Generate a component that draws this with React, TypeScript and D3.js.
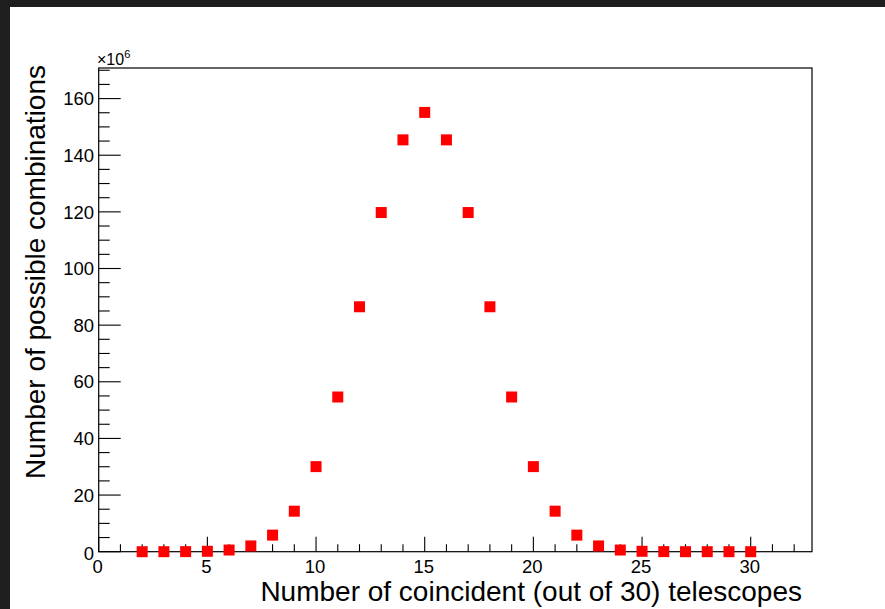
import React from "react";
import * as d3 from "d3";

// Number of coincident telescopes (out of 30)
const coincident: number[] = [
  2, 3, 4, 5, 6, 7, 8, 9, 10, 11, 12, 13, 14, 15, 16,
  17, 18, 19, 20, 21, 22, 23, 24, 25, 26, 27, 28, 29, 30,
];

// Number of possible combinations, in units of 10^6
const combinations: number[] = [
  0.000435, 0.00406, 0.027405, 0.142506, 0.593775, 2.0358, 5.852925,
  14.30715, 30.045015, 54.6273, 86.493225, 119.75985, 145.422675,
  155.11752, 145.422675, 119.75985, 86.493225, 54.6273, 30.045015,
  14.30715, 5.852925, 2.0358, 0.593775, 0.142506, 0.027405, 0.00406,
  0.000435, 0.00003, 0.000001,
];

const xMajorTicks: number[] = [0, 5, 10, 15, 20, 25, 30];
const yMajorTicks: number[] = [0, 20, 40, 60, 80, 100, 120, 140, 160];

const xTitle = "Number of coincident (out of 30) telescopes";
const yTitle = "Number of possible combinations";

const W = 885;
const H = 609;
const FONT = "'Liberation Sans', Arial, Helvetica, sans-serif";

const frame = { left: 98.7, right: 812, top: 68, bottom: 551.7 };

export default function App() {
  const x = d3.scaleLinear().domain([0, 32.82]).range([frame.left, frame.right]);
  const y = d3.scaleLinear().domain([0, 170.8]).range([frame.bottom, frame.top]);

  const xMinor = d3.range(0, 33, 1).filter((v) => v % 5 !== 0);
  const yMinor = d3.range(0, 171, 5).filter((v) => v % 20 !== 0);

  const marker = 11;

  return (
    <div style={{ position: "fixed", left: 0, top: 0, width: W, height: H }}>
      <svg width={W} height={H} style={{ display: "block" }}>
        <rect x={0} y={0} width={W} height={H} fill="#1e1e1e" />
        <rect x={10} y={7} width={W - 10} height={H - 7} fill="#ffffff" />

        {/* frame */}
        <rect
          x={frame.left}
          y={frame.top}
          width={frame.right - frame.left}
          height={frame.bottom - frame.top}
          fill="none"
          stroke="#000"
          strokeWidth={1.2}
        />

        {/* x axis ticks */}
        {xMajorTicks.map((t) => (
          <line key={"xM" + t} x1={x(t)} x2={x(t)} y1={frame.bottom} y2={frame.bottom - 15} stroke="#000" strokeWidth={1.1} />
        ))}
        {xMinor.map((t) => (
          <line key={"xm" + t} x1={x(t)} x2={x(t)} y1={frame.bottom} y2={frame.bottom - 7.5} stroke="#000" strokeWidth={1.1} />
        ))}
        {xMajorTicks.map((t) => (
          <text key={"xl" + t} x={x(t) - 1} y={573} textAnchor="middle" fontFamily={FONT} fontSize={18.5} fill="#000">
            {t}
          </text>
        ))}

        {/* y axis ticks */}
        {yMajorTicks.map((t) => (
          <line key={"yM" + t} x1={frame.left} x2={frame.left + 22} y1={y(t)} y2={y(t)} stroke="#000" strokeWidth={1.1} />
        ))}
        {yMinor.map((t) => (
          <line key={"ym" + t} x1={frame.left} x2={frame.left + 11} y1={y(t)} y2={y(t)} stroke="#000" strokeWidth={1.1} />
        ))}
        {yMajorTicks.map((t) => (
          <text key={"yl" + t} x={94} y={y(t) + (t === 0 ? 2 : 0)} dy="0.36em" textAnchor="end" fontFamily={FONT} fontSize={18.5} fill="#000">
            {t}
          </text>
        ))}

        {/* exponent */}
        <text x={97} y={65} fontFamily={FONT} fontSize={16} fill="#000">
          ×10
          <tspan dy={-7} fontSize={11}>6</tspan>
        </text>

        {/* axis titles */}
        <text x={802} y={601} textAnchor="end" fontFamily={FONT} fontSize={28} fill="#000">
          {xTitle}
        </text>
        <text
          transform={`translate(45,65) rotate(-90)`}
          textAnchor="end"
          fontFamily={FONT}
          fontSize={28}
          fill="#000"
        >
          {yTitle}
        </text>

        {/* markers */}
        {coincident.map((k, i) => (
          <rect
            key={"p" + k}
            x={x(k) - marker / 2}
            y={y(combinations[i]) - marker / 2}
            width={marker}
            height={marker}
            fill="#ff0000"
          />
        ))}
      </svg>
    </div>
  );
}
